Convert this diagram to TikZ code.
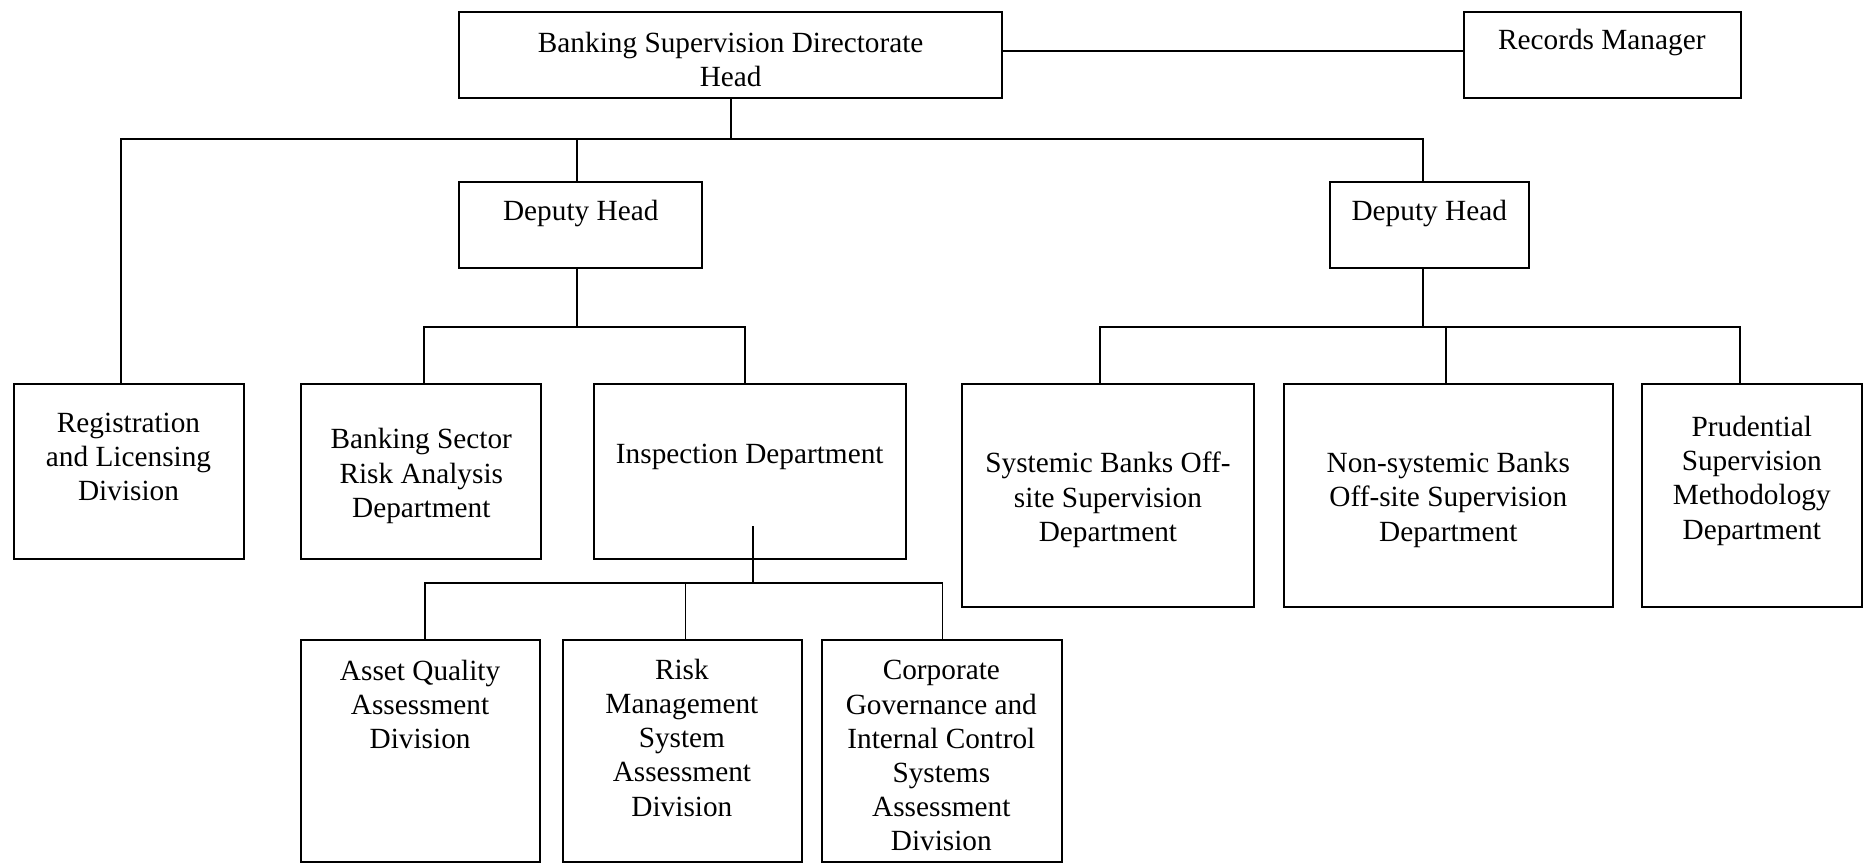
\documentclass[tikz,border=0pt]{standalone}
\usepackage{fontspec}
\setmainfont{Liberation Serif}
\usetikzlibrary{fit}
\begin{document}
\begin{tikzpicture}[x=0.025cm, y=-0.025cm,
  box/.style={draw, line width=1.2pt, inner sep=0pt, rectangle},
  lbl/.style={align=center, inner sep=0pt, font=\fontsize{17.5}{20.4}\selectfont},
  link/.style={line width=1.1pt}]
\useasboundingbox (0,0) rectangle (1568,729);

% boxes
\node[box, fit={(386,10) (842,82)}] (top) {};
\node[box, fit={(1230,10) (1463,82)}] (rec) {};
\node[box, fit={(386,153) (590,225)}] (dh1) {};
\node[box, fit={(1118,153) (1285,225)}] (dh2) {};
\node[box, fit={(12,323) (205,470)}] (reg) {};
\node[box, fit={(253,323) (455,470)}] (bsr) {};
\node[box, fit={(499,323) (761,470)}] (insp) {};
\node[box, fit={(253,538) (454,724)}] (aq) {};
\node[box, fit={(473,538) (674,724)}] (rm) {};
\node[box, fit={(691,538) (892,724)}] (cg) {};
\node[box, fit={(808,323) (1054,510)}] (sys) {};
\node[box, fit={(1079,323) (1355,510)}] (non) {};
\node[box, fit={(1380,323) (1565,510)}] (pru) {};

% labels
\node[lbl] (ttop) at (614,50) {Banking Supervision Directorate\\Head};
\node[lbl] (trec) at (1346,36) {Records Manager};
\node[lbl] (tdh1) at (488,179) {Deputy Head};
\node[lbl] (tdh2) at (1201,179) {Deputy Head};
\node[lbl] (treg) at (108,384) {Registration\\and Licensing\\Division};
\node[lbl] (tbsr) at (354,400) {Banking Sector\\Risk Analysis\\Department};
\node[lbl] (tinsp) at (630,384) {Inspection Department};
\node[lbl] (taq) at (353,592) {Asset Quality\\Assessment\\Division};
\node[lbl] (trm) at (573,620) {Risk\\Management\\System\\Assessment\\Division};
\node[lbl] (tcg) at (791,635) {Corporate\\Governance and\\Internal Control\\Systems\\Assessment\\Division};
\node[lbl] (tsys) at (931,420) {Systemic Banks Off-\\site Supervision\\Department};
\node[lbl] (tnon) at (1217,420) {Non-systemic Banks\\Off-site Supervision\\Department};
\node[lbl] (tpru) at (1472,404) {Prudential\\Supervision\\Methodology\\Department};

% connectors
\draw[link] (top.east |- 0,43) -- (rec.west |- 0,43);
\draw[link] (top.south) -- (top.south |- 0,117);
\draw[link] (reg.north -| 102,0) -- (102,117) -- (1196,117) -- (dh2.north -| 1196,0);
\draw[link] (dh1.north -| 485,0) -- (485,117);

\draw[link] (dh1.south -| 485,0) -- (485,275);
\draw[link] (bsr.north -| 356,0) -- (356,275) -- (626,275) -- (insp.north -| 626,0);

\coordinate (inspout) at (633,442);
\draw[link] (inspout) -- (633,490);
\draw[link] (aq.north -| 357,0) -- (357,490) -- (792,490) -- (cg.north -| 792,0);
\draw[link] (rm.north -| 576,0) -- (576,490);

\draw[link] (dh2.south -| 1196,0) -- (1196,275);
\draw[link] (sys.north -| 924,0) -- (924,275) -- (1462,275) -- (pru.north -| 1462,0);
\draw[link] (non.north -| 1215,0) -- (1215,275);
\end{tikzpicture}
\end{document}
